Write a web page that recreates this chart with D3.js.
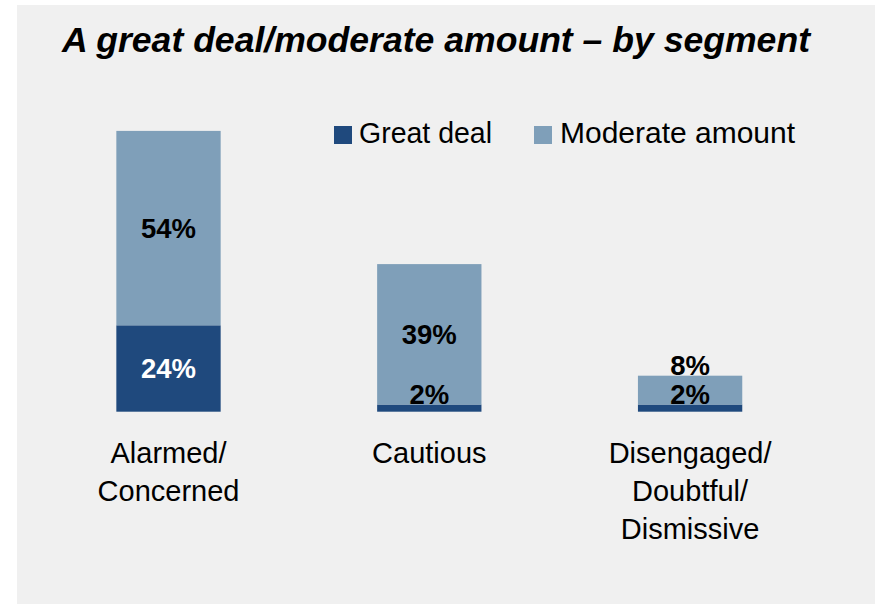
<!DOCTYPE html>
<html>
<head>
<meta charset="utf-8">
<script src="https://cdn.jsdelivr.net/npm/d3@7"></script>
<style>
  html, body { margin: 0; padding: 0; background: #ffffff; }
  svg { display: block; }
  text { font-family: "Liberation Sans", Arial, sans-serif; }
</style>
</head>
<body>
<svg id="chart" width="875" height="604"></svg>
<script>
// ---- data ----
const title = "A great deal/moderate amount \u2013 by segment";
const categories = ["Alarmed/Concerned", "Cautious", "Disengaged/Doubtful/Dismissive"];
const categoryLines = [["Alarmed/", "Concerned"], ["Cautious"], ["Disengaged/", "Doubtful/", "Dismissive"]];
const seriesNames = ["Great deal", "Moderate amount"];
const greatDeal = [24, 2, 2];
const moderateAmount = [54, 39, 8];

// ---- styles ----
const colors = ["#1f497d", "#7f9fb9"];
const labelColors = ["#ffffff", "#000000"];

const svg = d3.select("#chart");
const W = 875, H = 604;

svg.append("rect").attr("x", 17).attr("y", 5).attr("width", W - 17).attr("height", H - 5)
  .attr("fill", "#f0f0f0");

svg.append("text")
  .attr("x", 62).attr("y", 51.7)
  .attr("font-size", 35.5).attr("font-weight", "bold").attr("font-style", "italic")
  .attr("fill", "#000")
  .attr("textLength", 748).attr("lengthAdjust", "spacingAndGlyphs")
  .text(title);

const x = d3.scaleBand().domain(categories).range([38.1, 820.5])
  .paddingInner(0.6).paddingOuter(0.3);
const y = d3.scaleLinear().domain([0, 100]).range([411.7, 51.7]);

const table = categories.map((c, i) => ({ cat: c, "Great deal": greatDeal[i], "Moderate amount": moderateAmount[i] }));
const stack = d3.stack().keys(seriesNames)(table);

const g = svg.append("g");
stack.forEach((layer, si) => {
  g.selectAll(null).data(layer).enter().append("rect")
    .attr("x", d => x(d.data.cat))
    .attr("width", x.bandwidth())
    .attr("y", d => y(d[1]))
    .attr("height", d => y(d[0]) - y(d[1]))
    .attr("fill", colors[si]);
});

// data labels
const labelSize = 27.5;
stack.forEach((layer, si) => {
  g.selectAll(null).data(layer).enter().append("text")
    .attr("x", d => x(d.data.cat) + x.bandwidth() / 2)
    .attr("y", d => {
      const top = y(d[1]), bot = y(d[0]);
      const h = bot - top;
      if (h < 35) return top - 1; // small segment: label sits just above
      return (top + bot) / 2 + labelSize * 0.36;
    })
    .attr("text-anchor", "middle")
    .attr("font-size", labelSize).attr("font-weight", "bold")
    .attr("fill", d => (y(d[0]) - y(d[1]) < 35) ? "#000000" : labelColors[si])
    .text(d => (d[1] - d[0]) + "%");
});

// category labels
categories.forEach((c, i) => {
  const t = svg.append("text")
    .attr("text-anchor", "middle")
    .attr("font-size", 29)
    .attr("fill", "#000");
  categoryLines[i].forEach((line, li) => {
    t.append("tspan")
      .attr("x", x(c) + x.bandwidth() / 2)
      .attr("y", y(0) + 51 + li * 38.3)
      .text(line);
  });
});

// legend
const legendItems = [{ name: seriesNames[0], x: 334, tx: 359, w: 133 }, { name: seriesNames[1], x: 534, tx: 560, w: 235 }];
legendItems.forEach((it, i) => {
  svg.append("rect").attr("x", it.x).attr("y", 126).attr("width", 18).attr("height", 18)
    .attr("fill", colors[i]);
  svg.append("text").attr("x", it.tx).attr("y", 143.3)
    .attr("font-size", 29).attr("fill", "#000")
    .attr("textLength", it.w).attr("lengthAdjust", "spacingAndGlyphs")
    .text(it.name);
});
</script>
</body>
</html>
